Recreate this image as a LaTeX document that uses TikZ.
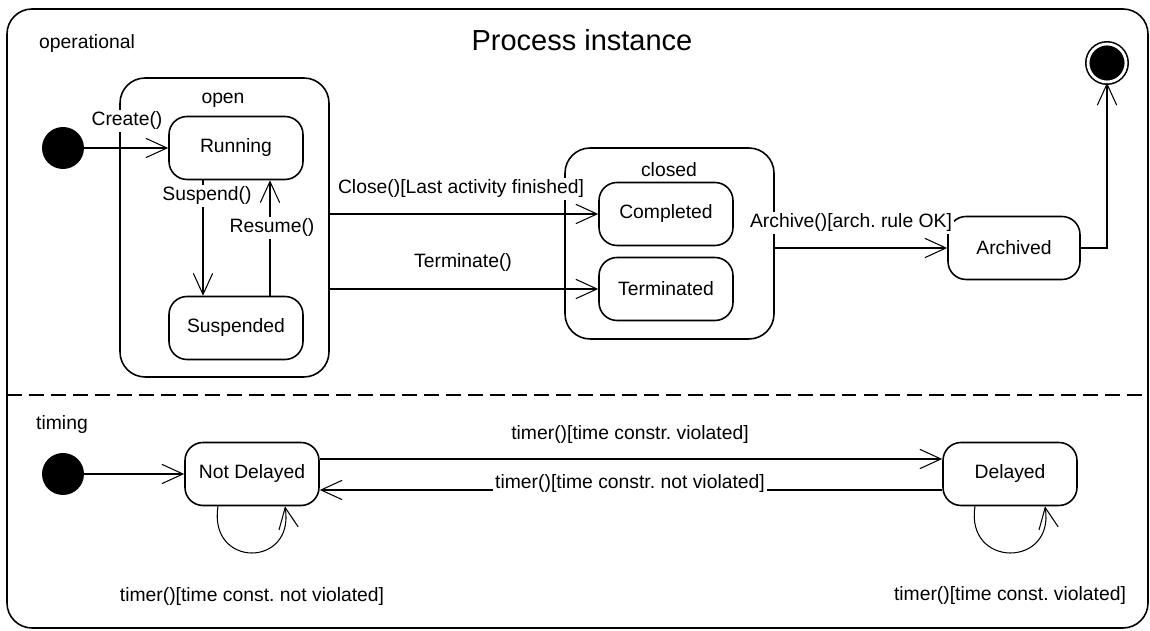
\documentclass[tikz,border=0pt]{standalone}
\usepackage{fontspec}
\setmainfont{Liberation Sans}
\usetikzlibrary{arrows.meta}
\frenchspacing

\begin{document}
\begin{tikzpicture}[x=0.02cm, y=0.02cm,
  every node/.style={font=\fontsize{11}{13}\selectfont},
  stbox/.style={draw, rounded corners=0.36cm, minimum width=2.68cm, minimum height=1.26cm, line width=0.9pt},
  compbox/.style={draw, rounded corners=0.5cm, line width=0.9pt},
  initdot/.style={circle, fill=black, minimum size=0.84cm, inner sep=0pt},
  finaldot/.style={circle, fill=black, draw=black, line width=0.9pt, double=white, double distance=1.6pt, minimum size=0.76cm, inner sep=0pt},
  trans/.style={-{Straight Barb[length=12pt, width=11pt]}, line width=0.6pt},
  lbl/.style={fill=white, inner sep=1pt}]
  \useasboundingbox (0,0) rectangle (1150,631);

  % Frame
  \draw[line width=0.9pt, rounded corners=0.5cm] (7,3) rectangle (1148,622);
  \draw[line width=1.1pt, dash pattern=on 8.5pt off 4pt] (7,236) -- (1148,236);
  \node[font=\fontsize{16.5}{19}\selectfont] (title) at (582,591) {Process instance};
  \node[anchor=west] (oper) at (33,587) {operational};
  \node[anchor=west] (timing) at (30,206) {timing};

  % Composite states
  \node[compbox, minimum width=4.18cm, minimum height=5.98cm] (openbox) at (224.5,403.5) {};
  \node (openlbl) at (223,531) {open};
  \node[compbox, minimum width=4.18cm, minimum height=3.82cm] (closedbox) at (669.5,387.5) {};
  \node (closedlbl) at (669,461) {closed};

  % Operational states
  \node[initdot] (init1) at (63,483) {};
  \node[stbox] (run) at (236,483) {Running};
  \node[stbox] (susp) at (236,303) {Suspended};
  \node[stbox] (compl) at (666,417) {Completed};
  \node[stbox] (term) at (666,342) {Terminated};
  \node[stbox, minimum width=2.64cm] (arch) at (1014,383) {Archived};
  \node[finaldot] (final) at (1107,568) {};

  \draw[trans] (init1) -- (run);
  \draw[trans] ([xshift=-0.66cm]run.south) -- ([xshift=-0.66cm]susp.north);
  \draw[trans] ([xshift=0.68cm]susp.north) -- ([xshift=0.68cm]run.south);
  \draw[trans] (openbox.east |- compl) -- (compl);
  \draw[trans] (openbox.east |- term) -- (term);
  \draw[trans] (closedbox.east |- arch) -- (arch);
  \draw[trans] (arch.east) -| (final.south);

  \node[lbl] (lcreate) at (127,510) {Create()};
  \node[lbl] (lsusp) at (207,435) {Suspend()};
  \node[lbl] (lres) at (272,403) {Resume()};
  \node[lbl] (lclose) at (461,442) {Close()[Last activity finished]};
  \node (lterm) at (463,368) {Terminate()};
  \node[lbl] (larch) at (851,408) {Archive()[arch. rule OK]};

  % Timing states
  \node[initdot] (init2) at (63,157) {};
  \node[stbox] (notdel) at (252,157) {Not Delayed};
  \node[stbox] (del) at (1010,157) {Delayed};

  \draw[trans] (init2) -- (notdel);
  \draw[trans] ([yshift=0.3cm]notdel.east) -- ([yshift=0.3cm]del.west);
  \draw[trans] ([yshift=-0.32cm]del.west) -- ([yshift=-0.32cm]notdel.east);
  \draw[trans] ([xshift=-0.68cm]notdel.south) .. controls +(-10,-62) and +(10,-62) .. ([xshift=0.66cm]notdel.south);
  \draw[trans] ([xshift=-0.7cm]del.south) .. controls +(-10,-62) and +(10,-62) .. ([xshift=0.7cm]del.south);

  \node (lviol) at (630,196) {timer()[time constr. violated]};
  \node[lbl] (lnotviol) at (630,147) {timer()[time constr. not violated]};
  \node (lloopa) at (252,34) {timer()[time const. not violated]};
  \node (lloopb) at (1010,35) {timer()[time const. violated]};
\end{tikzpicture}
\end{document}
